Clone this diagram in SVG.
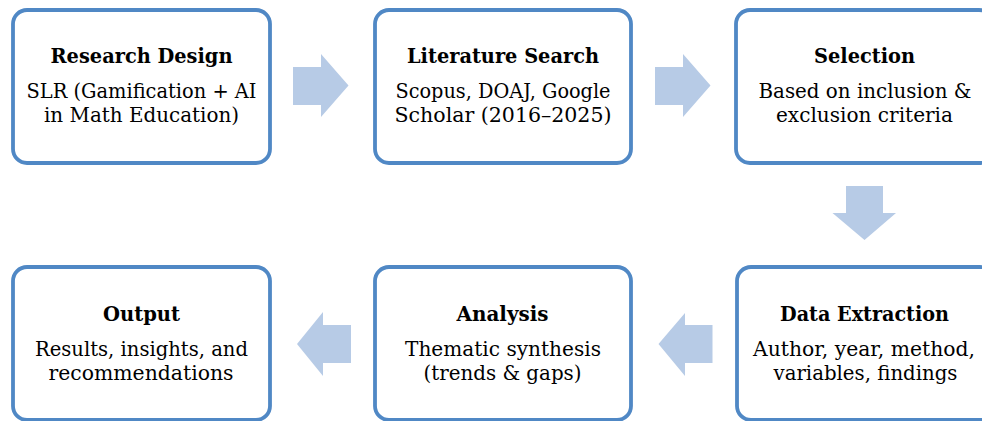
<svg xmlns="http://www.w3.org/2000/svg" width="982" height="421" viewBox="0 0 982 421">
<style>
.box{fill:#ffffff;stroke:#5088C5;stroke-width:3.8}
.arr{fill:#B7CBE6;stroke:none}
text{font-family:"DejaVu Serif","Liberation Serif",serif;fill:#000;text-anchor:middle}
.t{font-size:20px;font-weight:bold}
.b{font-size:20px}
</style>
<rect width="982" height="421" fill="#ffffff"/>
<g id="connectors">
<polygon class="arr" points="293,67 321,67 321,54 348.5,85.5 321,117 321,105 293,105"/>
<polygon class="arr" points="655,67 683,67 683,54 710.5,85.5 683,117 683,105 655,105"/>
<polygon class="arr" points="846,186 883,186 883,213 896,213 864.5,240 832.5,213 846,213"/>
<polygon class="arr" points="712.5,325 685,325 685,313 658.5,344 685,376 685,363 712.5,363"/>
<polygon class="arr" points="351,325 323,325 323,312 297,344 323,376 323,363 351,363"/>
</g>
<g id="research-design">
<rect class="box" x="13" y="10" width="257" height="153" rx="14"/>
<text class="t" x="141.5" y="63" textLength="182" lengthAdjust="spacingAndGlyphs">Research Design</text>
<text class="b" x="141.5" y="98" textLength="230" lengthAdjust="spacingAndGlyphs">SLR (Gamification + AI</text>
<text class="b" x="141.5" y="122" textLength="195" lengthAdjust="spacingAndGlyphs">in Math Education)</text>
</g>
<g id="literature-search">
<rect class="box" x="375" y="10" width="256" height="153" rx="14"/>
<text class="t" x="503" y="63" textLength="192" lengthAdjust="spacingAndGlyphs">Literature Search</text>
<text class="b" x="503" y="98" textLength="215" lengthAdjust="spacingAndGlyphs">Scopus, DOAJ, Google</text>
<text class="b" x="503" y="122" textLength="217" lengthAdjust="spacingAndGlyphs">Scholar (2016–2025)</text>
</g>
<g id="selection">
<rect class="box" x="736" y="10" width="257" height="153" rx="14"/>
<text class="t" x="864.5" y="63" textLength="101" lengthAdjust="spacingAndGlyphs">Selection</text>
<text class="b" x="865" y="98" textLength="213" lengthAdjust="spacingAndGlyphs">Based on inclusion &amp;</text>
<text class="b" x="864.5" y="122" textLength="177" lengthAdjust="spacingAndGlyphs">exclusion criteria</text>
</g>
<g id="data-extraction">
<rect class="box" x="737" y="267" width="257" height="153" rx="14"/>
<text class="t" x="864.5" y="321" textLength="169" lengthAdjust="spacingAndGlyphs">Data Extraction</text>
<text class="b" x="864" y="356" textLength="222" lengthAdjust="spacingAndGlyphs">Author, year, method,</text>
<text class="b" x="865.5" y="380" textLength="184" lengthAdjust="spacingAndGlyphs">variables, findings</text>
</g>
<g id="analysis">
<rect class="box" x="375" y="267" width="256" height="153" rx="14"/>
<text class="t" x="502.5" y="321" textLength="92" lengthAdjust="spacingAndGlyphs">Analysis</text>
<text class="b" x="503" y="356" textLength="196" lengthAdjust="spacingAndGlyphs">Thematic synthesis</text>
<text class="b" x="502.5" y="380" textLength="158" lengthAdjust="spacingAndGlyphs">(trends &amp; gaps)</text>
</g>
<g id="output">
<rect class="box" x="13" y="267" width="257" height="153" rx="14"/>
<text class="t" x="141.5" y="321" textLength="77" lengthAdjust="spacingAndGlyphs">Output</text>
<text class="b" x="141.5" y="356" textLength="213" lengthAdjust="spacingAndGlyphs">Results, insights, and</text>
<text class="b" x="141" y="380" textLength="185" lengthAdjust="spacingAndGlyphs">recommendations</text>
</g>
</svg>
